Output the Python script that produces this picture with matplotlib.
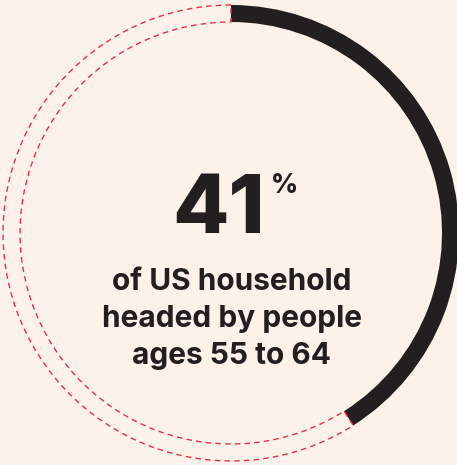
import matplotlib
matplotlib.use("Agg")
import matplotlib.pyplot as plt
from matplotlib.patches import Wedge

# data
share = 41  # percent
label_lines = ["of US household", "headed by people", "ages 55 to 64"]

bg = "#fdf2ea"
dark = "#231f20"
red = "#e8304a"

plt.rcParams['font.family'] = ['Inter', 'DejaVu Sans']

fig = plt.figure(figsize=(4.57, 4.65), dpi=100)
fig.patch.set_facecolor(bg)
ax = fig.add_axes([0, 0, 1, 1])
ax.set_facecolor(bg)
ax.set_xlim(0, 457)
ax.set_ylim(0, 465)
ax.axis("off")

cx, cy = 231, 232
r_out, ring = 228, 17

# filled part goes clockwise from 12 o'clock
end_angle = 90 - share / 100 * 360
ax.add_patch(Wedge((cx, cy), r_out, end_angle, 90, width=ring,
                   facecolor=dark, edgecolor="none"))
# rest of the ring as a dashed outline
ax.add_patch(Wedge((cx, cy), r_out, 90, end_angle + 360, width=ring,
                   fill=False, edgecolor=red, linewidth=1.0,
                   linestyle=(0, (4, 3))))

ax.text(219, 232, f"{share}", ha="center", va="baseline",
        fontsize=59, fontweight="heavy", color=dark)
ax.text(284, 272, "%", ha="center", va="baseline",
        fontsize=19, fontweight="heavy", color=dark)

for i, line in enumerate(label_lines):
    ax.text(232, 175 - i * 37, line, ha="center", va="baseline",
            fontsize=21.5, fontweight="bold", color=dark)

fig.savefig("out.png", dpi=100, facecolor=bg)
